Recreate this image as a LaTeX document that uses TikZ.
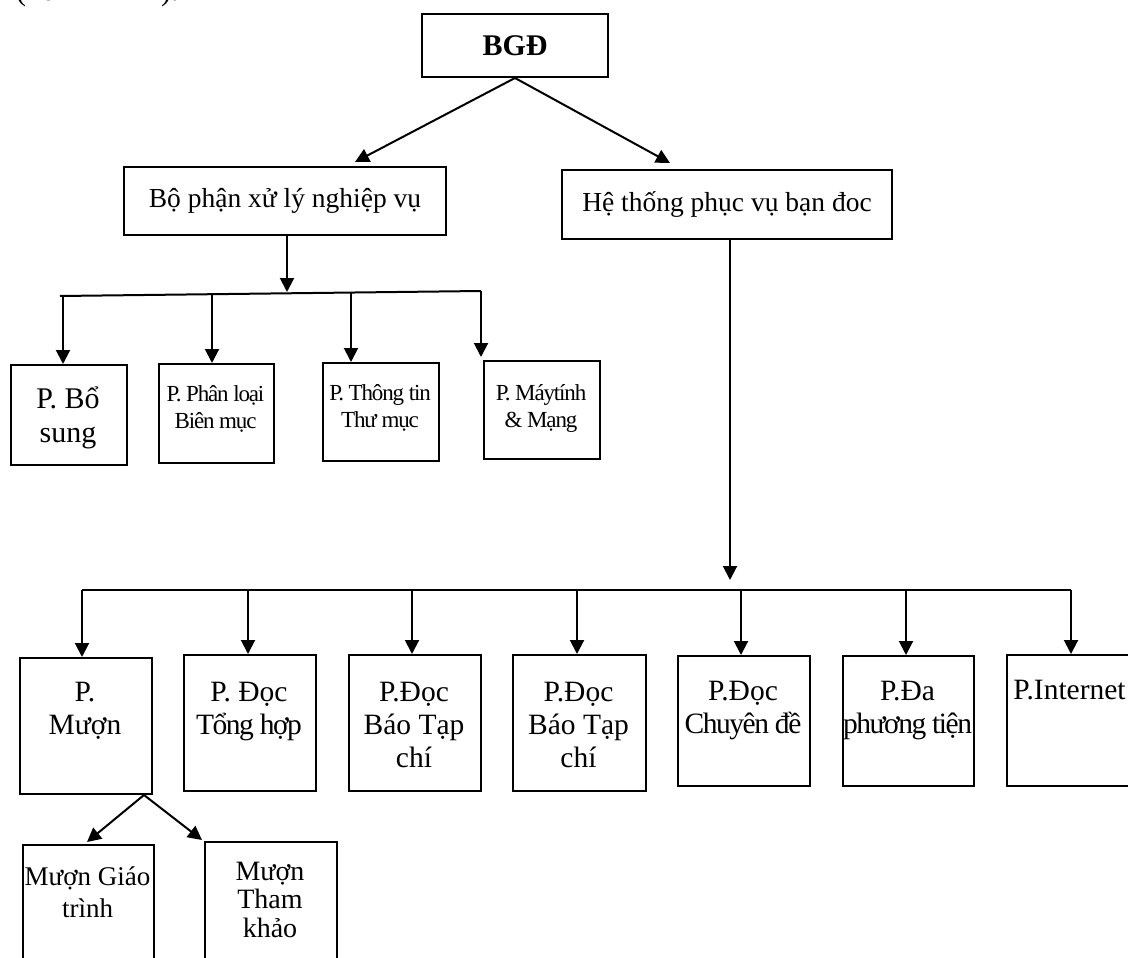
\documentclass[tikz,border=0pt]{standalone}
\usepackage{fontspec}
\setmainfont{Liberation Serif}
\newfontfamily\cond[LetterSpace=-5]{Liberation Serif}
\usetikzlibrary{arrows.meta}
\newcommand\bx[6][]{\node[box,minimum width=#5*0.5pt,minimum height=#6*0.5pt,#1] (#2) at (#3,#4) {};}
\tikzset{
  box/.style={draw, line width=1pt, inner sep=0pt, anchor=north west},
  lbl/.style={inner sep=0pt, anchor=base, align=center},
  arr/.style={line width=1pt, -{Triangle[length=7pt,width=7pt]}},
  ln/.style={line width=1pt},
  fbig/.style={font=\fontsize{15}{17}\selectfont},
  fmid/.style={font=\fontsize{13.75}{16}\selectfont},
  fsm/.style={font=\fontsize{11.5}{13.25}\cond},
  fbot/.style={font=\fontsize{14.75}{16.5}\selectfont},
}
\begin{document}
\begin{tikzpicture}[x=0.5pt,y=-0.5pt]
\useasboundingbox (0,0) rectangle (1128,957);
% fragment of the preceding text line
\node[anchor=base east, inner sep=0pt, fbig] (frag) at (179,1) {(xem hình 1).};
% top levels
\node[box, minimum width=93pt, minimum height=31.5pt, font=\fontsize{15}{18}\selectfont\bfseries] (bgd) at (421,13) {BGĐ};
\node[box, minimum width=161pt, minimum height=34pt, fmid] (nv) at (123,166) {Bộ phận xử lý nghiệp vụ};
\node[box, minimum width=165pt, minimum height=34.5pt, fmid] (ht) at (561,169) {Hệ thống phục vụ bạn đoc};
\coordinate (tl) at (355,162);
\coordinate (tr) at (670,163);
\draw[arr] (bgd.south) -- (tl);
\draw[arr] (bgd.south) -- (tr);
% upper row
\bx{bs}{10}{364}{116}{100}
\bx{plbm}{158}{363}{115}{99}
\bx{tttm}{322}{362}{116}{98}
\bx{mtm}{483}{360}{116}{98}
\node[lbl, fbig] (bs-t) at (68,442) {P. Bổ\\sung};
\node[lbl, fsm] (plbm-t) at (215.5,428) {P. Phân loại\\Biên mục};
\node[lbl, fsm] (tttm-t) at (380,427) {P. Thông tin\\Thư mục};
\node[lbl, fsm] (mtm-t) at (541,427) {P. Máytính\\\& Mạng};
\coordinate (j1) at (287,292);
\draw[arr] (nv.south -| j1) -- (j1);
\coordinate (hL) at (60,296);
\coordinate (hR) at (481,291);
\draw[ln] (hL) -- (hR);
\coordinate (u1) at (63,296);
\coordinate (u2) at (212,295);
\coordinate (u3) at (351,293);
\draw[arr] (u1) -- (u1 |- bs.north);
\draw[arr] (u2) -- (u2 |- plbm.north);
\draw[arr] (u3) -- (u3 |- tttm.north);
\coordinate (u4t) at (481,357);
\draw[arr] (hR) -- (u4t);
% bottom row
\coordinate (j2) at (730,580);
\draw[arr] (ht.south -| j2) -- (j2);
\coordinate (bL) at (82,590);
\coordinate (bR) at (1071,590);
\draw[ln] (bL) -- (bR);
\bx{pm}{19}{657}{132}{136}
\bx{dth}{183}{654}{132}{136}
\bx{btca}{348}{654}{132}{136}
\bx{btcb}{512}{654}{133}{136}
\bx{dcd}{677}{655}{132}{130}
\bx{dpt}{842}{655}{131}{130}
\bx{inet}{1006}{654}{132}{131}
\draw[arr] (bL) -- (bL |- pm.north);
\coordinate (v2) at (248,590);
\coordinate (v3) at (412,590);
\coordinate (v4) at (577,590);
\coordinate (v5) at (741,590);
\coordinate (v6) at (906,590);
\draw[arr] (v2) -- (v2 |- dth.north);
\draw[arr] (v3) -- (v3 |- btca.north);
\draw[arr] (v4) -- (v4 |- btcb.north);
\draw[arr] (v5) -- (v5 |- dcd.north);
\draw[arr] (v6) -- (v6 |- dpt.north);
\draw[arr] (bR) -- (bR |- inet.north);
\node[lbl, fbot] (pm-t) at (85,734) {P.\\Mượn};
\node[lbl, fbot] (dth-t) at (249,734) {P. Đọc\\{\cond Tổng hợp}};
\node[lbl, fbot] (btca-t) at (414,767) {P.Đọc\\Báo Tạp\\chí};
\node[lbl, fbot] (btcb-t) at (578.5,767) {P.Đọc\\Báo Tạp\\chí};
\node[lbl, fbot] (dcd-t) at (743,733) {P.Đọc\\{\cond Chuyên đề}};
\node[lbl, fbot] (dpt-t) at (907.5,733) {P.Đa\\{\cond phương tiện}};
\node[lbl, fbot, anchor=base west] (inet-t) at (1013,699) {P.Internet};
% sub boxes of P. Muon
\coordinate (sp) at (144,795);
\bx{mgt}{22}{844}{131}{140}
\bx{mtk}{204}{841}{132}{140}
\coordinate (tg) at (87,842);
\coordinate (tk) at (202,840);
\draw[arr] (sp) -- (tg);
\draw[arr] (sp) -- (tk);
\node[lbl, font=\fontsize{13.5}{16}\selectfont] (mgt-t) at (87.5,917) {Mượn Giáo\\trình};
\node[lbl, font=\fontsize{14}{14.25}\selectfont] (mtk-t) at (270,937) {Mượn\\Tham\\khảo};
\end{tikzpicture}
\end{document}
